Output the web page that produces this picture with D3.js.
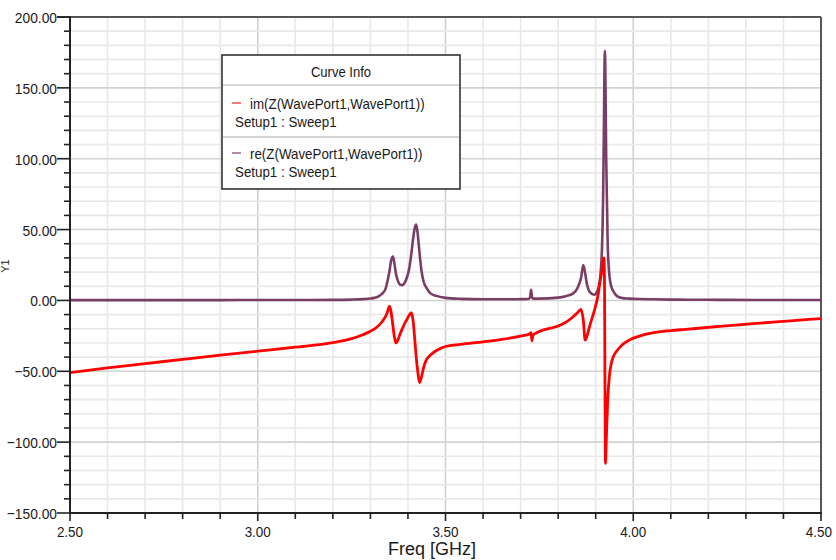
<!DOCTYPE html>
<html><head><meta charset="utf-8">
<script src="https://cdn.jsdelivr.net/npm/d3@7"></script>
<style>
body{margin:0;background:#fff}
svg{display:block}
text{font-family:"Liberation Sans",Arial,Helvetica,sans-serif;fill:#1a1a1a}
</style></head>
<body><svg id="c" width="836" height="560"></svg>
<script>
// Frequency samples (GHz)
const freq = [2.50,2.60,2.70,2.80,2.90,3.00,3.10,3.20,3.25,3.28,3.30,3.31,3.32,3.33,3.34,3.345,3.351,3.355,3.360,3.364,3.368,3.373,3.380,3.385,3.390,3.397,3.403,3.409,3.414,3.418,3.422,3.426,3.431,3.436,3.442,3.449,3.460,3.475,3.50,3.54,3.60,3.65,3.70,3.72,3.725,3.728,3.730,3.733,3.75,3.80,3.82,3.84,3.852,3.861,3.867,3.872,3.877,3.884,3.896,3.905,3.912,3.917,3.920,3.922,3.9235,3.9245,3.9255,3.926,3.928,3.932,3.937,3.942,3.948,3.955,3.963,3.972,3.989,4.016,4.051,4.10,4.14,4.23,4.32,4.41,4.50];
// im(Z(WavePort1,WavePort1))
const imZ = [-51.0,-47.6,-44.6,-41.6,-38.6,-35.8,-33.0,-29.8,-27.0,-24.2,-21.8,-20.2,-18.2,-15.4,-11.5,-8.5,-4.0,-8.0,-18.0,-26.0,-30.0,-28.0,-23.0,-20.0,-17.0,-13.5,-10.5,-8.7,-15.0,-27.0,-40.0,-50.0,-58.0,-54.0,-47.0,-42.0,-38.5,-35.5,-32.5,-31.0,-29.2,-27.5,-25.2,-24.0,-23.4,-22.8,-28.5,-24.5,-22.0,-18.0,-15.5,-11.5,-8.5,-6.3,-14.0,-28.0,-25.0,-18.0,-7.5,2.0,14.0,22.0,28.0,30.0,10.0,-50.0,-100.0,-115.0,-100.0,-70.0,-52.0,-44.0,-39.0,-36.0,-33.5,-31.0,-28.0,-25.2,-22.9,-21.3,-20.4,-18.3,-16.4,-14.6,-12.8];
// re(Z(WavePort1,WavePort1))
const reZ = [0.2,0.2,0.2,0.2,0.2,0.3,0.3,0.4,0.6,0.9,1.3,1.8,2.6,4.5,8.0,13.0,21.0,28.0,31.0,26.0,19.0,14.0,11.0,10.8,12.0,16.0,22.0,33.0,44.0,51.0,53.5,47.0,33.0,21.0,13.0,9.0,5.0,3.2,1.8,1.1,0.8,0.8,0.9,1.0,2.0,7.5,3.0,1.3,1.3,2.0,3.0,5.0,9.0,16.0,25.0,19.0,11.0,6.0,4.0,7.0,16.5,39.0,78.0,126.0,165.0,176.0,165.0,154.0,100.0,39.0,16.5,9.5,6.0,3.5,2.2,1.6,1.3,1.0,0.8,0.6,0.5,0.4,0.3,0.3,0.3];

const xTickLabels = [2.50,3.00,3.50,4.00,4.50];
const yTickLabels = [-150,-100,-50,0,50,100,150,200];
const legendTitle = "Curve Info";
const seriesNames = ["im(Z(WavePort1,WavePort1))","re(Z(WavePort1,WavePort1))"];
const setupName = "Setup1 : Sweep1";
const xTitle = "Freq [GHz]";
const yTitle = "Y1";

const svg = d3.select("#c");
const L = 70, R = 821, T = 17, B = 513;
const x = d3.scaleLinear().domain([2.5,4.5]).range([L,R]);
const y = d3.scaleLinear().domain([-150,200]).range([B,T]);

function squeeze(sel,k){
  sel.each(function(){
    const len = this.getComputedTextLength();
    this.setAttribute("textLength", len*k);
    this.setAttribute("lengthAdjust","spacingAndGlyphs");
  });
}

// grid
const xMinor = d3.range(0,21).map(i=>2.5+i*0.1);
const yMinor = d3.range(0,36).map(i=>-150+i*10);
const g = svg.append("g");
g.selectAll(".vg").data(xMinor).join("line")
  .attr("x1",d=>x(d)).attr("x2",d=>x(d)).attr("y1",T).attr("y2",B)
  .attr("stroke",(d,i)=> i%5===0 ? "#cfcfcf" : "#e8e8e8").attr("stroke-width",1.6);
g.selectAll(".hg").data(yMinor).join("line")
  .attr("x1",L).attr("x2",R).attr("y1",d=>y(d)).attr("y2",d=>y(d))
  .attr("stroke",(d,i)=> i%5===0 ? "#d2d2d2" : "#e8e8e8").attr("stroke-width",1.6);

// borders
svg.append("line").attr("x1",L).attr("x2",R).attr("y1",T).attr("y2",T).attr("stroke","#555").attr("stroke-width",2);
svg.append("line").attr("x1",R).attr("x2",R).attr("y1",T).attr("y2",B).attr("stroke","#555").attr("stroke-width",2);

// curves
const pts = freq.map((f,i)=>({f,im:imZ[i],re:reZ[i]}));
const lineRe = d3.line().x(d=>x(d.f)).y(d=>y(d.re)).curve(d3.curveMonotoneX);
const lineIm = d3.line().x(d=>x(d.f)).y(d=>y(d.im)).curve(d3.curveMonotoneX);
svg.append("path").datum(pts).attr("d",lineRe).attr("fill","none")
  .attr("stroke","#7a3e66").attr("stroke-width",2.6).attr("stroke-linejoin","round");
svg.append("path").datum(pts).attr("d",lineIm).attr("fill","none")
  .attr("stroke","#ff0000").attr("stroke-width",2.8).attr("stroke-linejoin","round");

// axes lines
svg.append("line").attr("x1",L).attr("x2",L).attr("y1",T-1).attr("y2",B+1).attr("stroke","#222").attr("stroke-width",2);
svg.append("line").attr("x1",L).attr("x2",R+1).attr("y1",B).attr("y2",B).attr("stroke","#222").attr("stroke-width",2);

// y ticks
svg.selectAll(".ymt").data(yMinor.concat([200])).join("line")
  .attr("x1",d=> (d%50===0)? L-13 : L-6).attr("x2",L+1)
  .attr("y1",d=>y(d)).attr("y2",d=>y(d)).attr("stroke","#222").attr("stroke-width",1.6);
const yl = svg.selectAll(".ytl").data(yTickLabels).join("text")
  .attr("x",L-13).attr("y",d=>y(d)+6).attr("text-anchor","end")
  .attr("font-size",15.5).text(d=>d3.format(".2f")(d));
squeeze(yl,0.89);

// x ticks
svg.selectAll(".xmt").data(xMinor).join("line")
  .attr("x1",d=>x(d)).attr("x2",d=>x(d)).attr("y1",B)
  .attr("y2",(d,i)=> i%5===0 ? B+8 : B+6).attr("stroke","#222").attr("stroke-width",1.6);
const xl = svg.selectAll(".xtl").data(xTickLabels).join("text")
  .attr("x",(d,i)=> i===xTickLabels.length-1 ? 832 : x(d))
  .attr("y",537).attr("text-anchor",(d,i)=> i===xTickLabels.length-1 ? "end" : "middle")
  .attr("font-size",15.5).text(d=>d3.format(".2f")(d));
squeeze(xl,0.87);

svg.append("text").attr("x",432).attr("y",555).attr("text-anchor","middle")
  .attr("font-size",18).text(xTitle);
svg.append("text").attr("transform","translate(9,266) rotate(-90)").attr("text-anchor","middle")
  .attr("font-size",11).text(yTitle);

// legend
const lg = svg.append("g");
lg.append("rect").attr("x",222).attr("y",55).attr("width",238).attr("height",134)
  .attr("fill","#fff").attr("stroke","#333").attr("stroke-width",1.6);
lg.append("line").attr("x1",223).attr("x2",459).attr("y1",85).attr("y2",85).attr("stroke","#c8c8c8").attr("stroke-width",1.5);
lg.append("line").attr("x1",223).attr("x2",459).attr("y1",137).attr("y2",137).attr("stroke","#c8c8c8").attr("stroke-width",1.5);
const t0 = lg.append("text").attr("x",341).attr("y",77).attr("text-anchor","middle").attr("font-size",14.5).text(legendTitle);
squeeze(t0,0.9);
const dashCols = ["#f27a7a","#b58ca6"];
const rowY = [103,153];
seriesNames.forEach((n,i)=>{
  lg.append("line").attr("x1",232).attr("x2",241).attr("y1",rowY[i]).attr("y2",rowY[i])
    .attr("stroke",dashCols[i]).attr("stroke-width",2);
  const a = lg.append("text").attr("x",250).attr("y",rowY[i]+6).attr("font-size",14.5).text(n);
  squeeze(a,0.92);
  const b = lg.append("text").attr("x",235).attr("y",rowY[i]+24).attr("font-size",14.5).text(setupName);
  squeeze(b,0.92);
});
</script></body></html>
